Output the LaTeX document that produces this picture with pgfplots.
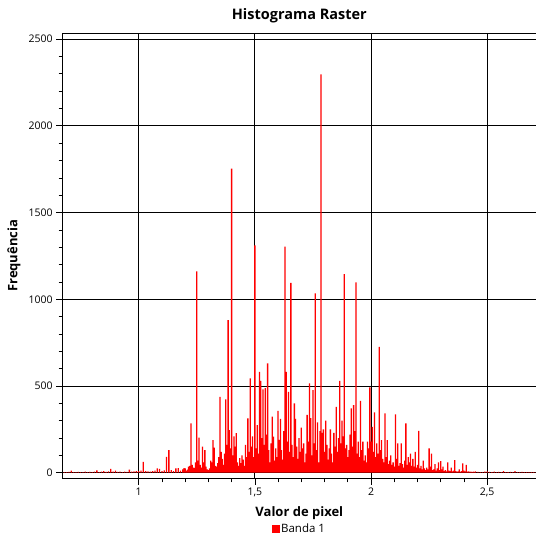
\documentclass[border=0pt]{standalone}
\usepackage{fontspec}
\setmainfont{Open Sans}
\usepackage{pgfplots}
\pgfplotsset{compat=1.18}
\usepackage{pgfplotstable}

% histogram bins: pixel value, frequency
\pgfplotstableread{
v f
0.68 3
0.69 4
0.70 5
0.71 12
0.72 4
0.73 3
0.74 5
0.75 4
0.76 3
0.77 6
0.78 4
0.79 5
0.80 4
0.81 6
0.82 14
0.83 4
0.84 6
0.85 10
0.86 5
0.87 8
0.88 22
0.89 7
0.90 12
0.91 5
0.92 6
0.93 4
0.94 7
0.95 5
0.96 18
0.97 6
0.98 8
0.99 10
1.00 9
1.01 12
1.02 63
1.03 10
1.04 8
1.05 6
1.06 9
1.07 12
1.08 25
1.09 22
1.10 10
1.11 14
1.12 92
1.13 131
1.14 15
1.15 10
1.16 25
1.17 26
1.18 12
1.19 20
1.195 27
1.200 25
1.205 12
1.210 18
1.215 35
1.220 40
1.225 285
1.230 45
1.235 30
1.240 28
1.245 60
1.250 1160
1.255 70
1.260 202
1.265 45
1.270 30
1.275 150
1.280 60
1.285 130
1.290 35
1.295 20
1.300 15
1.305 25
1.310 70
1.315 60
1.320 188
1.325 145
1.330 40
1.335 35
1.340 55
1.345 90
1.350 438
1.355 120
1.360 80
1.365 45
1.370 110
1.375 423
1.380 160
1.385 880
1.390 246
1.395 140
1.400 1753
1.405 100
1.410 210
1.415 150
1.420 228
1.425 60
1.430 40
1.435 85
1.440 55
1.445 100
1.450 75
1.455 40
1.460 160
1.465 90
1.470 313
1.475 120
1.480 544
1.485 150
1.490 210
1.495 90
1.500 1310
1.505 140
1.510 275
1.515 110
1.520 582
1.525 530
1.530 200
1.535 480
1.540 160
1.545 488
1.550 220
1.555 630
1.560 130
1.565 60
1.570 170
1.575 323
1.580 208
1.585 70
1.590 140
1.595 90
1.600 357
1.605 190
1.610 310
1.615 130
1.620 75
1.625 240
1.630 1303
1.635 582
1.640 180
1.645 466
1.650 120
1.655 1095
1.660 160
1.665 90
1.670 400
1.675 310
1.680 150
1.685 80
1.690 200
1.695 120
1.700 260
1.705 140
1.710 170
1.715 60
1.720 110
1.725 333
1.730 180
1.735 515
1.740 315
1.745 100
1.750 476
1.755 170
1.760 1034
1.765 130
1.770 290
1.775 60
1.780 240
1.785 2296
1.790 230
1.795 250
1.800 120
1.805 300
1.810 160
1.815 75
1.820 140
1.825 250
1.830 110
1.835 60
1.840 230
1.845 150
1.850 380
1.855 120
1.860 200
1.865 530
1.870 170
1.875 300
1.880 210
1.885 1145
1.890 140
1.895 160
1.900 90
1.905 130
1.910 220
1.915 371
1.920 150
1.925 390
1.930 240
1.935 1097
1.940 110
1.945 180
1.950 90
1.955 415
1.960 130
1.965 180
1.970 70
1.975 100
1.980 60
1.985 180
1.990 140
1.995 492
2.000 180
2.005 265
2.010 120
2.015 348
2.020 90
2.025 170
2.030 110
2.035 726
2.040 130
2.045 188
2.050 80
2.055 60
2.060 342
2.065 90
2.070 188
2.075 50
2.080 70
2.085 100
2.090 45
2.095 60
2.100 35
2.105 336
2.110 80
2.115 170
2.120 40
2.125 55
2.130 170
2.135 50
2.140 30
2.145 70
2.150 285
2.155 45
2.160 90
2.165 60
2.170 110
2.175 40
2.180 80
2.185 35
2.190 120
2.195 30
2.200 45
2.205 242
2.210 25
2.215 40
2.220 20
2.225 70
2.230 25
2.235 15
2.240 30
2.245 20
2.250 140
2.255 35
2.260 110
2.265 15
2.270 20
2.275 50
2.280 12
2.285 25
2.290 60
2.295 15
2.300 67
2.305 20
2.310 35
2.315 10
2.320 15
2.325 8
2.330 60
2.335 12
2.340 10
2.345 30
2.350 8
2.355 12
2.360 73
2.365 10
2.370 6
2.375 8
2.380 20
2.385 6
2.390 10
2.395 54
2.400 12
2.405 8
2.410 45
2.415 6
2.420 8
2.425 5
2.430 6
2.435 4
2.440 6
2.445 5
2.450 8
2.46 5
2.47 4
2.48 3
2.49 6
2.50 8
2.51 5
2.52 4
2.53 6
2.54 3
2.55 5
2.56 4
2.57 10
2.58 4
2.59 3
2.60 5
2.61 4
2.62 10
2.63 4
2.64 3
2.65 5
2.66 4
2.67 3
2.68 4
2.69 3
2.70 3
2.71 2
}\histdata

\begin{document}
\begin{tikzpicture}
\begin{axis}[name=ax,
	scale only axis, width=473.3pt, height=445pt,
	xmin=0.673, xmax=2.71, ymin=-32, ymax=2533,
	xtick={1,1.5,2,2.5}, minor x tick num=4,
	ytick={0,500,1000,1500,2000,2500}, minor y tick num=4,
	tick align=outside, xtick pos=bottom, ytick pos=left,
	major tick length=6.5pt, minor tick length=4pt,
	grid=major, major grid style={black, line width=0.8pt},
	axis line style={black, line width=0.8pt},
	every tick/.style={black, line width=0.6pt},
	/pgf/number format/use comma,
	/pgf/number format/1000 sep={},
	/pgf/number format/assume math mode=true,
	tick label style={font=\fontsize{10.5}{12}\selectfont},
	title={Histograma Raster},
	title style={font=\fontsize{14.5}{16}\selectfont\bfseries, at={(axis description cs:0.5,1)}, anchor=base, yshift=8pt},
	xlabel={Valor de pixel},
	xlabel style={font=\fontsize{13}{14}\selectfont\bfseries, at={(axis description cs:0.5,0)}, anchor=base, yshift=-38pt},
	ylabel={Frequência},
	ylabel style={font=\fontsize{13}{14}\selectfont\bfseries, at={(axis description cs:-0.0955,0.5)}, anchor=base},
	legend style={at={(axis description cs:0.5,0)}, anchor=north, yshift=-42pt, draw=none, fill=none,
		font=\fontsize{11.5}{13}\selectfont, inner ysep=1pt},
	legend image code/.code={\fill[red] (0pt,-3.5pt) rectangle (7pt,3.5pt);},
]
\addplot[ybar, bar width=1.3pt, bar shift=0pt, fill=red, draw=none, forget plot] table[x=v, y=f] {\histdata};
\addlegendimage{red}
\addlegendentry{Banda 1}
\end{axis}
\pgfresetboundingbox
\path[use as bounding box] ([shift={(-62.7pt,-57.7pt)}]ax.south west) rectangle ([shift={(0pt,33.3pt)}]ax.north east);
\end{tikzpicture}
\end{document}
